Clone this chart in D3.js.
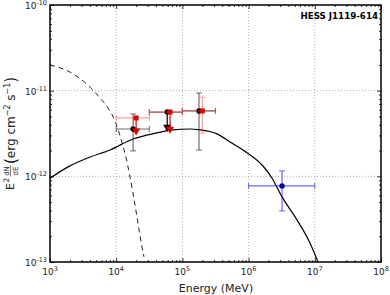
<!DOCTYPE html>
<html>
<head>
    <meta charset="UTF-8">
    <title>HESS J1119-614 SED</title>
    <script src="https://cdn.jsdelivr.net/npm/d3@7"></script>
    <style type="text/css">
        body { margin: 0; background: #fff; }
        text { font-family: "DejaVu Sans", sans-serif; }
    </style>
</head>
<body>
<svg id="svg" width="390" height="295"></svg>

<script>
    // x axis decades, y axis decades
    var xDecades = [1e3, 1e4, 1e5, 1e6, 1e7, 1e8];
    var xExpLabels = ["3", "4", "5", "6", "7", "8"];
    var yDecades = [1e-13, 1e-12, 1e-11, 1e-10];
    var yExpLabels = ["-13", "-12", "-11", "-10"];

    // Fermi-LAT points (black), energies in MeV
    var fermiE = [1.8e4, 5.9e4, 1.78e5];
    var fermiElo = [1e4, 3.16e4, 1e5];
    var fermiEhi = [3.16e4, 1e5, 3.16e5];
    var fermiF = [3.57e-12, 5.63e-12, 5.8e-12];
    var fermiFlo = [1.98e-12, 3.66e-12, 2.03e-12];
    var fermiFhi = [5.35e-12, 5.63e-12, 9.4e-12];
    var fermiUL = [false, true, false];

    // second analysis (red)
    var redE = [2.0e4, 6.5e4, 2.0e5];
    var redElo = [1e4, 3.16e4, 1e5];
    var redEhi = [3.16e4, 1e5, 3.16e5];
    var redF = [4.8e-12, 5.63e-12, 5.8e-12];
    var redFlo = [3.3e-12, 3.47e-12, 3.2e-12];
    var redFhi = [4.8e-12, 5.63e-12, 8.4e-12];
    var redUL = [true, true, false];

    // HESS point (blue)
    var hessE = [3.2e6];
    var hessElo = [1e6];
    var hessEhi = [1e7];
    var hessF = [7.73e-13];
    var hessFlo = [3.94e-13];
    var hessFhi = [1.156e-12];

    // model curves
    var modelE = [1e3, 1.87e3, 4.02e3, 8.05e3, 1.79e4, 4.13e4, 7.21e4, 1.30e5, 1.85e5, 3.33e5, 5.24e5, 8.22e5, 1.65e6, 2.25e6, 3.20e6, 5.38e6, 8.45e6, 1.12e7];
    var modelF = [9.5e-13, 1.29e-12, 1.68e-12, 2.03e-12, 2.73e-12, 3.21e-12, 3.48e-12, 3.57e-12, 3.48e-12, 3.13e-12, 2.52e-12, 2.03e-12, 1.32e-12, 9.57e-13, 5.75e-13, 3.10e-13, 1.67e-13, 1.0e-13];
    var dashE = [1e3, 2.0e3, 4.02e3, 5.69e3, 7.52e3, 9.59e3, 1.18e4, 1.41e4, 1.79e4, 2.06e4, 2.45e4, 2.63e4];
    var dashF = [1.995e-11, 1.65e-11, 1.10e-11, 8.22e-12, 6.28e-12, 4.43e-12, 2.73e-12, 1.64e-12, 6.40e-13, 3.36e-13, 1.50e-13, 1.15e-13];

    var svg = d3.select("svg");
    var mLeft = 50, mRight = 381, mTop = 5, mBottom = 262;

    var x = d3.scaleLog().domain([1e3, 1e8]).range([mLeft, mRight]);
    var y = d3.scaleLog().domain([1e-13, 1e-10]).range([mBottom, mTop]);

    function minors(decades) {
        var out = [];
        for (var i = 0; i < decades.length - 1; i++) {
            for (var k = 2; k <= 9; k++) out.push(decades[i] * k);
        }
        return out;
    }

    // grid
    svg.append("g").selectAll("line").data(xDecades.slice(1, -1)).enter().append("line")
        .attr("x1", function (d) { return x(d); }).attr("x2", function (d) { return x(d); })
        .attr("y1", mTop).attr("y2", mBottom)
        .attr("stroke", "#999").attr("stroke-width", 0.8).attr("stroke-dasharray", "1,2");
    svg.append("g").selectAll("line").data(yDecades.slice(1, -1)).enter().append("line")
        .attr("y1", function (d) { return y(d); }).attr("y2", function (d) { return y(d); })
        .attr("x1", mLeft).attr("x2", mRight)
        .attr("stroke", "#999").attr("stroke-width", 0.8).attr("stroke-dasharray", "1,2");

    // ticks, inward on all sides
    function tickAxis(axis, pos, vals, size) {
        var g = svg.append("g").attr("transform", pos)
            .call(axis.tickValues(vals).tickSizeInner(size).tickSizeOuter(0).tickFormat(""));
        g.select(".domain").remove();
        g.selectAll("line").attr("stroke", "#000").attr("stroke-width", 0.8);
    }
    tickAxis(d3.axisBottom(x), "translate(0," + mBottom + ")", xDecades, -4);
    tickAxis(d3.axisBottom(x), "translate(0," + mBottom + ")", minors(xDecades), -2);
    tickAxis(d3.axisTop(x), "translate(0," + mTop + ")", xDecades, -4);
    tickAxis(d3.axisTop(x), "translate(0," + mTop + ")", minors(xDecades), -2);
    tickAxis(d3.axisLeft(y), "translate(" + mLeft + ",0)", yDecades, -4);
    tickAxis(d3.axisLeft(y), "translate(" + mLeft + ",0)", minors(yDecades), -2);
    tickAxis(d3.axisRight(y), "translate(" + mRight + ",0)", yDecades, -4);
    tickAxis(d3.axisRight(y), "translate(" + mRight + ",0)", minors(yDecades), -2);

    // tick labels
    xDecades.forEach(function (d, i) {
        var t = svg.append("text").attr("x", x(d)).attr("y", mBottom + 13)
            .attr("text-anchor", "middle").attr("font-size", 9).attr("fill", "#222");
        t.append("tspan").text("10");
        t.append("tspan").attr("dy", -4).attr("font-size", 6.5).text(xExpLabels[i]);
    });
    yDecades.forEach(function (d, i) {
        var t = svg.append("text").attr("x", mLeft - 3).attr("y", y(d) + 4)
            .attr("text-anchor", "end").attr("font-size", 9).attr("fill", "#222");
        t.append("tspan").text("10");
        t.append("tspan").attr("dy", -4).attr("font-size", 6.5).text(yExpLabels[i]);
    });

    // clip
    svg.append("clipPath").attr("id", "clip").append("rect")
        .attr("x", mLeft).attr("y", mTop).attr("width", mRight - mLeft).attr("height", mBottom - mTop);
    var plot = svg.append("g").attr("clip-path", "url(#clip)");

    var line = d3.line()
        .x(function (d) { return x(d[0]); })
        .y(function (d) { return y(d[1]); })
        .curve(d3.curveMonotoneX);

    plot.append("path").datum(d3.zip(dashE, dashF)).attr("d", line)
        .attr("fill", "none").attr("stroke", "#222").attr("stroke-width", 1)
        .attr("stroke-dasharray", "5,4");
    plot.append("path").datum(d3.zip(modelE, modelF)).attr("d", line)
        .attr("fill", "none").attr("stroke", "#000").attr("stroke-width", 1.2);

    var tri = d3.symbol().type(d3.symbolTriangle).size(28);

    function errorPoints(E, Elo, Ehi, F, Flo, Fhi, UL, lineColor, markColor, marker) {
        var g = plot.append("g");
        E.forEach(function (e, i) {
            var cx = x(e), cy = y(F[i]);
            // horizontal bar with caps
            g.append("line").attr("x1", x(Elo[i])).attr("x2", x(Ehi[i])).attr("y1", cy).attr("y2", cy)
                .attr("stroke", lineColor).attr("stroke-width", 1.2);
            [Elo[i], Ehi[i]].forEach(function (v) {
                g.append("line").attr("x1", x(v)).attr("x2", x(v)).attr("y1", cy - 3).attr("y2", cy + 3)
                    .attr("stroke", lineColor).attr("stroke-width", 1);
            });
            if (UL && UL[i]) {
                g.append("line").attr("x1", cx).attr("x2", cx).attr("y1", cy).attr("y2", y(Flo[i]))
                    .attr("stroke", markColor).attr("stroke-width", 1.2);
                g.append("path").attr("d", tri)
                    .attr("transform", "translate(" + cx + "," + (y(Flo[i]) - 1) + ") rotate(180)")
                    .attr("fill", markColor);
            } else {
                g.append("line").attr("x1", cx).attr("x2", cx).attr("y1", y(Fhi[i])).attr("y2", y(Flo[i]))
                    .attr("stroke", lineColor).attr("stroke-width", 1.2);
                [Flo[i], Fhi[i]].forEach(function (v) {
                    g.append("line").attr("x1", cx - 3).attr("x2", cx + 3).attr("y1", y(v)).attr("y2", y(v))
                        .attr("stroke", lineColor).attr("stroke-width", 1);
                });
            }
            if (marker === "square") {
                g.append("rect").attr("x", cx - 2.5).attr("y", cy - 2.5).attr("width", 5).attr("height", 5)
                    .attr("fill", markColor);
            } else {
                g.append("circle").attr("cx", cx).attr("cy", cy).attr("r", 2.7).attr("fill", markColor);
            }
        });
    }

    errorPoints(fermiE, fermiElo, fermiEhi, fermiF, fermiFlo, fermiFhi, fermiUL, "rgba(60,60,60,0.75)", "#000", "circle");
    errorPoints(redE, redElo, redEhi, redF, redFlo, redFhi, redUL, "rgba(255,60,60,0.5)", "#e00000", "square");
    errorPoints(hessE, hessElo, hessEhi, hessF, hessFlo, hessFhi, null, "rgba(40,40,255,0.7)", "#0000b0", "circle");

    // frame
    svg.append("rect").attr("x", mLeft).attr("y", mTop).attr("width", mRight - mLeft).attr("height", mBottom - mTop)
        .attr("fill", "none").attr("stroke", "#000").attr("stroke-width", 1.5);

    // source name
    svg.append("text").attr("x", mRight - 3).attr("y", 19).attr("text-anchor", "end")
        .attr("font-size", 8.7).attr("font-weight", "bold").text("HESS J1119-614");

    // x label
    svg.append("text").attr("x", 216).attr("y", 292).attr("text-anchor", "middle")
        .attr("font-size", 11).attr("fill", "#222").text("Energy (MeV)");

    // y label
    var yl = svg.append("g").attr("transform", "translate(14,190) rotate(-90)").attr("fill", "#222");
    yl.append("text").attr("x", 0).attr("y", 0).attr("font-size", 11).text("E");
    yl.append("text").attr("x", 7.5).attr("y", -5.5).attr("font-size", 7.5).text("2");
    yl.append("text").attr("x", 19).attr("y", -5).attr("font-size", 7).attr("text-anchor", "middle").text("dN");
    yl.append("line").attr("x1", 13.5).attr("x2", 24.5).attr("y1", -3.5).attr("y2", -3.5).attr("stroke", "#222").attr("stroke-width", 0.6);
    yl.append("text").attr("x", 19).attr("y", 3.5).attr("font-size", 7).attr("text-anchor", "middle").text("dE");
    var t = yl.append("text").attr("x", 26).attr("y", 1).attr("font-size", 12);
    t.append("tspan").attr("font-size", 15).attr("dy", 1).text("(");
    t.append("tspan").attr("dy", -1).text("erg cm");
    t.append("tspan").attr("dy", -5).attr("font-size", 8).text("\u22122");
    t.append("tspan").attr("dy", 5).text(" s");
    t.append("tspan").attr("dy", -5).attr("font-size", 8).text("\u22121");
    t.append("tspan").attr("dy", 6).attr("font-size", 15).text(")");
</script>
</body>
</html>
